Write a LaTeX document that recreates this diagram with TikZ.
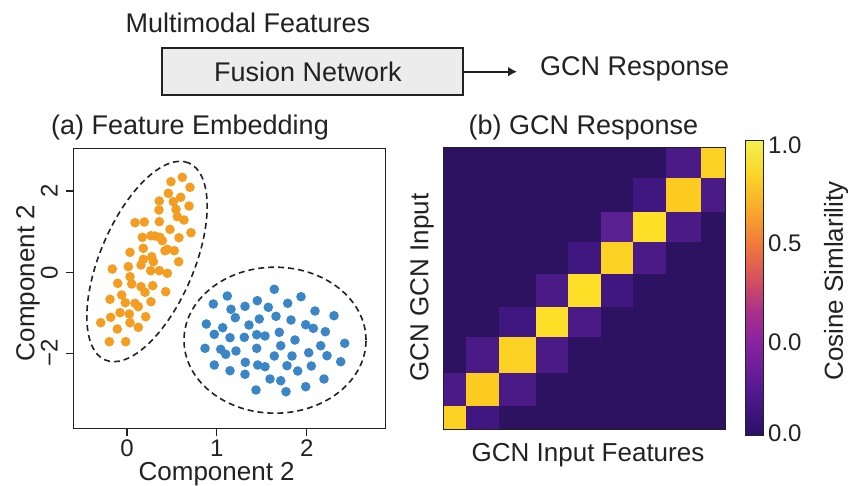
\documentclass[tikz,border=0pt]{standalone}
\usepackage{fontspec}
\setmainfont{Liberation Sans}
\usetikzlibrary{arrows.meta}
\definecolor{odot}{HTML}{F49D20}
\definecolor{bdot}{HTML}{3A86C6}
\definecolor{hbg}{HTML}{2E1262}
\definecolor{pA}{HTML}{4A1A86}
\definecolor{pB}{HTML}{401780}
\definecolor{pC}{HTML}{5A2192}
\definecolor{yA}{HTML}{FBD123}
\definecolor{yB}{HTML}{FDDF27}
\definecolor{yC}{HTML}{FBCB20}
\definecolor{c0}{HTML}{F4F04E}
\definecolor{c1}{HTML}{FAD325}
\definecolor{c2}{HTML}{F8A62C}
\definecolor{c3}{HTML}{EF7A3A}
\definecolor{c4}{HTML}{D4505E}
\definecolor{c5}{HTML}{AA3089}
\definecolor{c6}{HTML}{8A24A0}
\definecolor{c7}{HTML}{561A92}
\definecolor{c8}{HTML}{2A0F68}
\definecolor{boxfill}{HTML}{ECECEC}
\definecolor{ink}{HTML}{222222}
\begin{document}
\begin{tikzpicture}[x=1pt,y=-1pt,
  ttl/.style={font=\fontsize{27}{32}\selectfont, inner sep=0pt, anchor=base, text=ink},
  lbl/.style={font=\fontsize{26}{30}\selectfont, inner sep=0pt, anchor=base, text=ink},
  tck/.style={font=\fontsize{24}{28}\selectfont, inner sep=0pt, anchor=base, text=ink},
  dashring/.style={draw=ink, line width=1.6pt, dash pattern=on 6pt off 4pt},
  axbox/.style={draw=ink, line width=1.4pt},
  tickmark/.style={draw=ink, line width=1.2pt}]
\useasboundingbox[fill=white] (0,0) rectangle (848,486);

% ---- top flow ----
\node[ttl] (mm) at (248,32.7) {Multimodal Features};
\node[draw=ink, line width=1.5pt, fill=boxfill, minimum width=301pt, minimum height=47pt, inner sep=0pt] (fusion) at (312.5,71.7) {};
\node[ttl] (fusiontxt) at (308,81.5) {Fusion Network};
\node[ttl, anchor=base west] (resp) at (540,75.7) {GCN Response};
\draw[ink, line width=2pt, -{Latex[length=9pt,width=10pt]}] (fusion.east) -- ([xshift=-23pt]resp.west |- fusion.east);

% ---- titles ----
\node[ttl] (ta) at (190,134.7) {(a) Feature Embedding};
\node[ttl] (tb) at (583.5,134.7) {(b) GCN Response};

% ---- scatter ----
\foreach \x/\y in {182.3/177.3,171/181.7,190/187.3,168.3/193.3,180.7/197.3,159.3/201,173.3/201.7,189/206,159/210,176/209.3,177.3/216.7,184/220,135/222.7,144.3/222,159.3/221.7,170/229.3,191/232.7,151/235.7,142.3/237.3,155/236,160/237.3,162.3/240.7,179/237.7,143.3/248.3,167.3/249.3,174.3/250.7,130/252.3,165/250.7,151.7/256.7,143.3/259.3,153.3/261.7,178.7/261.7,141/265,128.3/266.7,112.3/269,150.7/270.7,159.3/270.7,167.3/273.3,130/276.7,131.7/284,117.7/283.3,141/286.7,152.7/285.7,145/292.3,165.7/291.7,121.7/295,110/299.3,125.3/302.7,135/303.3,151/301.7,138.3/306.7,120/312.7,129.3/314,110.7/317.3,145.7/316.7,100.7/322.7,130/322.7,117.3/329,138.3/327.3,109.3/341.7,125.7/341.7}
  \fill[odot] (\x,\y) circle (4.8pt);
\foreach \x/\y in {274.3/289.3,227.3/296,301/296.7,213.3/304,257.3/300.7,287.7/303.3,245/306.3,231/309.3,268.3/307.3,315/311,334/315.7,235.3/317.7,259.3/319,276/316.3,291/320,206.3/324,222.7/327.7,249/325,305.7/324.7,313.3/328.3,325.3/331.7,214.3/334.3,230/337.7,244.3/337.3,256.7/334.7,265/336,279.3/332.3,295/340,344.7/343.3,205/348.3,220.7/349.3,225.7/354.3,236/351,256.7/348.3,280.7/345.7,320.7/345.7,274.3/356,292/356,308.7/352.7,327/355.7,340.7/361.7,214.3/365,245.3/362.3,257.7/365,265/366.7,287/365.7,311.3/366,230/370.7,245/374.3,297.7/371,270/379,280.7/380.7,324/379,256/390,286/391.7,305.7/386.7}
  \fill[bdot] (\x,\y) circle (4.8pt);
\draw[dashring, shift={(147,261.5)}, rotate=67] (0,0) ellipse [x radius=107pt, y radius=47pt];
\draw[dashring] (275,340.2) ellipse [x radius=91pt, y radius=73pt];
\draw[axbox] (73.3,148.3) rectangle (385.7,428.3);
\foreach \t/\xx in {0/127,1/216.7,2/306.7} {
  \draw[tickmark] (\xx,428.3) -- (\xx,435.5);
  \node[tck] (xt\t) at (\xx,456.5) {\t};
}
\foreach \n/\t/\yy in {a/2/191,b/0/272.7,c/−2/353.3} {
  \draw[tickmark] (73.3,\yy) -- (66,\yy);
  \node[tck, rotate=90] (yt\n) at (57.6,\yy) {\t};
}
\node[lbl] (xl) at (216.7,480) {Component 2};
\node[lbl, rotate=90] (yl) at (34.3,283) {Component 2};

% ---- heatmap ----
\def\cx{{443.3,466,499,536,568,601,633,666,701,725.7}}
\def\ry{{147.7,177.7,211.7,241.7,274,306.7,337.3,372.7,406,429}}
\fill[hbg] (443.3,147.7) rectangle (725.7,429);
\foreach \c/\r/\col in {7/0/pA,8/0/yA, 6/1/pB,7/1/yC,8/1/pA, 5/2/pC,6/2/yB,7/2/pA, 4/3/pB,5/3/yA,6/3/pA, 3/4/pA,4/4/yB,5/4/pB, 2/5/pB,3/5/yB,4/5/pA, 1/6/pA,2/6/yA,3/6/pA, 0/7/pA,1/7/yC,2/7/pA, 0/8/yA,1/8/pB} {
  \pgfmathsetmacro{\xa}{\cx[\c]}
  \pgfmathsetmacro{\xb}{\cx[\c+1]}
  \pgfmathsetmacro{\ya}{\ry[\r]}
  \pgfmathsetmacro{\yb}{\ry[\r+1]}
  \fill[\col] (\xa,\ya) rectangle (\xb,\yb);
}
\draw[draw=ink, line width=1.0pt] (443.3,147.7) rectangle (725.7,429);
\node[lbl, rotate=90] (hyl) at (428.3,287.5) {GCN GCN Input};
\node[lbl] (hxl) at (588,461.5) {GCN Input Features};

% ---- colorbar ----
\shade[top color=c0, bottom color=c1] (745,141) rectangle (763,176.8);
\shade[top color=c1, bottom color=c2] (745,176.2) rectangle (763,212);
\shade[top color=c2, bottom color=c3] (745,211.4) rectangle (763,244.4);
\shade[top color=c3, bottom color=c4] (745,243.8) rectangle (763,279.6);
\shade[top color=c4, bottom color=c5] (745,279) rectangle (763,312);
\shade[top color=c5, bottom color=c6] (745,311.4) rectangle (763,341.4);
\shade[top color=c6, bottom color=c7] (745,340.8) rectangle (763,388.5);
\shade[top color=c7, bottom color=c8] (745,387.9) rectangle (763,435);
\draw[draw=ink, line width=1.0pt] (745,141) rectangle (763,435);
\node[tck, anchor=base west] (cb1) at (768,153.6) {1.0};
\node[tck, anchor=base west] (cb2) at (768,251.6) {0.5};
\node[tck, anchor=base west] (cb3) at (768,350.6) {0.0};
\node[tck, anchor=base west] (cb4) at (768,441.6) {0.0};
\node[lbl, rotate=90] (cbl) at (842.8,281) {Cosine Simlarility};
\end{tikzpicture}
\end{document}
